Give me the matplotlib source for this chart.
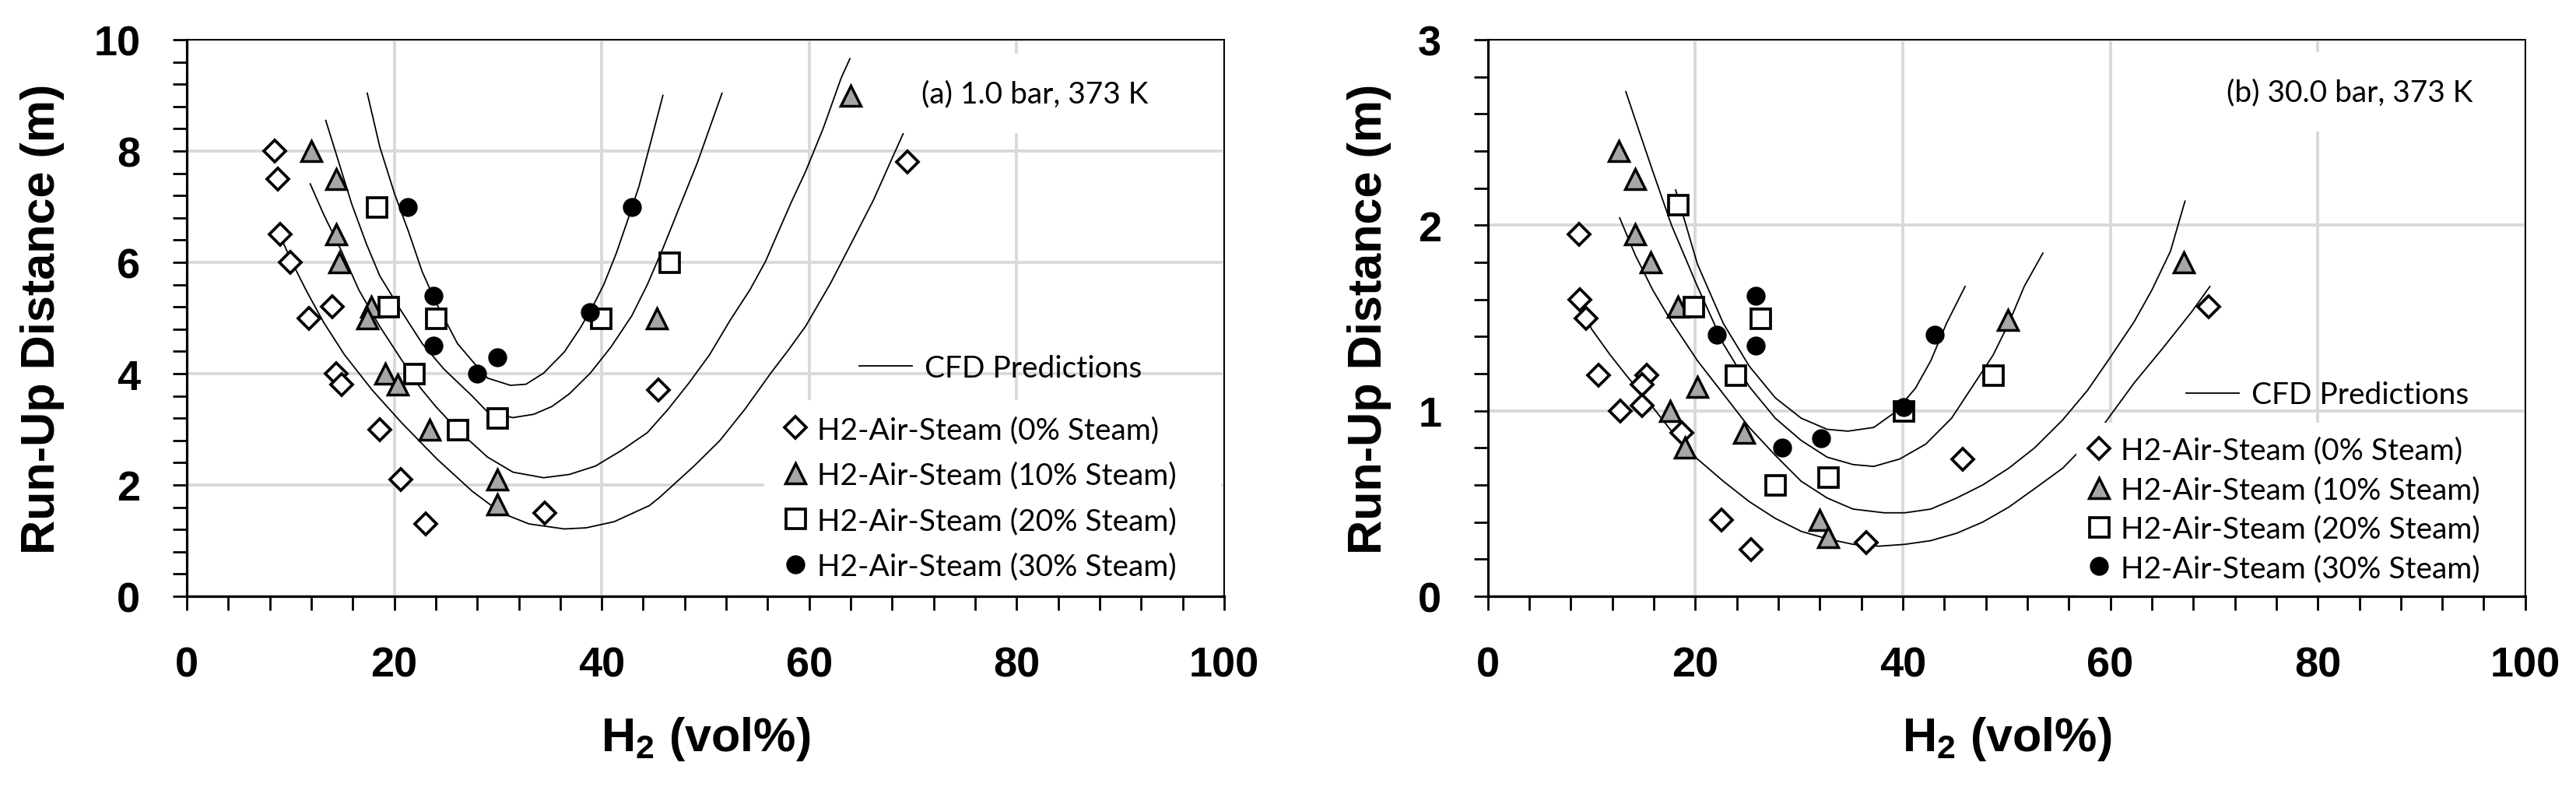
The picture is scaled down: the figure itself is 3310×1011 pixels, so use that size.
import matplotlib
matplotlib.use("Agg")
import matplotlib.pyplot as plt
from matplotlib.lines import Line2D
from matplotlib.patches import Rectangle
from matplotlib.ticker import MultipleLocator

# ---------------- (a) 1.0 bar, 373 K ----------------
a0_x = [8.5, 8.8, 9.0, 10.0, 11.8, 14.0, 14.4, 14.9, 18.6, 20.6, 23.0, 34.5, 45.5, 69.5]
a0_y = [8.0, 7.5, 6.5, 6.0, 5.0, 5.2, 4.0, 3.8, 3.0, 2.1, 1.3, 1.5, 3.7, 7.8]
a10_x = [12.0, 14.4, 14.4, 14.7, 17.8, 17.4, 19.1, 20.3, 23.4, 29.9, 29.9, 45.3, 64.0]
a10_y = [8.0, 7.5, 6.5, 6.0, 5.2, 5.0, 4.0, 3.8, 3.0, 2.1, 1.65, 5.0, 9.0]
a20_x = [18.3, 19.4, 24.0, 21.9, 26.1, 29.9, 39.9, 46.5]
a20_y = [7.0, 5.2, 5.0, 4.0, 3.0, 3.2, 5.0, 6.0]
a30_x = [21.3, 23.8, 23.8, 28.0, 29.9, 38.9, 42.9]
a30_y = [7.0, 5.4, 4.5, 4.0, 4.3, 5.1, 7.0]

# CFD predictions
ac0_x = [8.7, 10.1, 11.5, 13.2, 15.2, 17.9, 20.7, 24.1, 27.5, 30.3, 33.0, 36.4, 38.5, 41.2,
         44.6, 45.6, 48.9, 51.4, 53.8, 56.3, 57.9, 59.65, 62.05, 63.8, 66.2, 67.9, 69.2]
ac0_y = [6.6, 6.02, 5.5, 4.92, 4.34, 3.70, 3.12, 2.47, 1.89, 1.50, 1.30, 1.21, 1.23, 1.34,
         1.63, 1.78, 2.34, 2.80, 3.36, 4.01, 4.40, 4.85, 5.62, 6.25, 7.12, 7.83, 8.37]
ac10_x = [11.9, 13.2, 14.9, 16.6, 18.6, 20.7, 22.5, 24.0, 26.1, 29.0, 31.45, 34.4, 36.9, 39.4,
          41.9, 44.4, 46.4, 48.4, 50.4, 52.35, 54.3, 55.8, 57.1, 58.3, 59.65, 61.36, 63.08, 63.93]
ac10_y = [7.41, 6.86, 6.21, 5.5, 4.85, 4.25, 3.75, 3.41, 2.99, 2.50, 2.23, 2.13, 2.19, 2.34,
          2.62, 2.94, 3.36, 3.83, 4.34, 4.95, 5.51, 6.02, 6.58, 7.09, 7.63, 8.41, 9.31, 9.66]
ac20_x = [13.4, 14.5, 15.9, 17.3, 18.6, 20.7, 22.7, 24.8, 27.5, 29.0, 31.45, 33.45, 35.2, 36.9,
          38.9, 40.9, 42.9, 44.4, 45.9, 47.6, 49.2, 50.4, 51.6]
ac20_y = [8.55, 7.89, 7.05, 6.34, 5.76, 5.12, 4.54, 4.08, 3.60, 3.31, 3.21, 3.27, 3.41, 3.64,
          4.01, 4.48, 5.04, 5.60, 6.25, 7.04, 7.78, 8.41, 9.04]
ac30_x = [17.4, 18.6, 20.0, 21.4, 22.7, 24.1, 26.1, 28.2, 29.0, 31.2, 32.7, 34.4, 36.4, 37.9,
          39.2, 40.2, 41.4, 42.6, 43.6, 44.6, 45.9]
ac30_y = [9.04, 8.08, 7.25, 6.54, 5.83, 5.25, 4.54, 4.08, 3.92, 3.79, 3.81, 4.01, 4.39, 4.81,
          5.23, 5.60, 6.16, 6.81, 7.37, 8.07, 9.0]

# ---------------- (b) 30.0 bar, 373 K ----------------
b0_x = [8.8, 8.9, 9.5, 10.7, 12.8, 15.3, 14.9, 14.9, 18.7, 22.5, 25.4, 36.5, 45.8, 69.5]
b0_y = [1.95, 1.60, 1.50, 1.19, 1.00, 1.19, 1.14, 1.03, 0.88, 0.41, 0.25, 0.29, 0.74, 1.56]
b10_x = [12.6, 14.2, 14.2, 15.7, 18.3, 20.2, 17.6, 19.0, 24.7, 32.0, 32.8, 50.1, 67.1]
b10_y = [2.40, 2.25, 1.95, 1.80, 1.56, 1.13, 1.00, 0.80, 0.88, 0.41, 0.32, 1.49, 1.80]
b20_x = [18.3, 19.8, 26.3, 23.9, 27.7, 32.8, 40.1, 48.7]
b20_y = [2.11, 1.56, 1.50, 1.19, 0.60, 0.64, 1.00, 1.19]
b30_x = [25.8, 25.8, 22.1, 28.4, 32.1, 40.1, 43.1]
b30_y = [1.62, 1.35, 1.41, 0.80, 0.85, 1.02, 1.41]

bc0_x = [8.5, 10.0, 11.8, 13.5, 15.6, 17.7, 20.2, 22.7, 25.2, 27.7, 30.2, 32.7, 35.2, 37.7,
         40.2, 42.7, 45.2, 47.7, 50.2, 52.7, 55.4, 58.9, 62.3, 65.1, 67.8, 69.6]
bc0_y = [1.61, 1.44, 1.30, 1.18, 1.04, 0.89, 0.74, 0.62, 0.51, 0.42, 0.35, 0.31, 0.28, 0.27,
         0.28, 0.30, 0.34, 0.40, 0.48, 0.58, 0.69, 0.89, 1.15, 1.34, 1.53, 1.67]
bc10_x = [12.7, 14.2, 15.9, 17.7, 20.2, 22.7, 25.2, 27.7, 30.2, 32.7, 35.2, 38.2, 40.2, 42.7,
          45.2, 47.7, 50.2, 52.7, 55.4, 57.8, 59.9, 62.3, 64.0, 65.8, 67.2]
bc10_y = [2.04, 1.84, 1.65, 1.48, 1.27, 1.09, 0.91, 0.76, 0.62, 0.53, 0.47, 0.45, 0.45, 0.47,
          0.53, 0.60, 0.69, 0.80, 0.95, 1.11, 1.28, 1.48, 1.65, 1.86, 2.13]
bc20_x = [13.3, 14.5, 15.9, 17.7, 20.2, 22.7, 25.2, 27.7, 30.2, 32.7, 35.2, 37.2, 39.7, 42.2,
          44.7, 46.7, 48.7, 50.2, 51.7, 53.5]
bc20_y = [2.72, 2.52, 2.29, 2.00, 1.67, 1.36, 1.13, 0.96, 0.84, 0.75, 0.71, 0.70, 0.74, 0.82,
          0.96, 1.13, 1.30, 1.47, 1.67, 1.85]
bc30_x = [18.1, 20.2, 22.7, 25.2, 27.7, 30.2, 32.7, 34.7, 37.2, 39.2, 41.2, 42.7, 44.2, 46.0]
bc30_y = [2.19, 1.79, 1.47, 1.24, 1.07, 0.96, 0.90, 0.89, 0.91, 0.99, 1.12, 1.27, 1.47, 1.67]

labels = ["H2-Air-Steam (0% Steam)", "H2-Air-Steam (10% Steam)",
          "H2-Air-Steam (20% Steam)", "H2-Air-Steam (30% Steam)"]

styles = [
    dict(marker="D", ms=14, mfc="white", mec="black", mew=2.7),
    dict(marker="^", ms=19, mfc="#a6a6a6", mec="black", mew=2.5),
    dict(marker="s", ms=18, mfc="white", mec="black", mew=2.7),
    dict(marker="o", ms=16, mfc="black", mec="black", mew=1.5),
]

plt.rcParams["font.family"] = ["Liberation Sans", "DejaVu Sans"]
plt.rcParams["font.weight"] = "bold"
plt.rcParams["mathtext.fontset"] = "custom"
plt.rcParams["mathtext.rm"] = "Liberation Sans"
plt.rcParams["mathtext.bf"] = "Liberation Sans:bold"

SMALL = dict(family="Lato", weight="normal", size=28)


def panel(ax, pts, curves, ymax, ymaj, ymin_step, note, note_xy,
          cfd_anchor, leg_anchor, box, spacing, ylab_x):
    for cx, cy in curves:
        ax.plot(cx, cy, color="black", lw=1.3, zorder=2)
    for (px, py), st in zip(pts, styles):
        ax.plot(px, py, ls="none", zorder=3, **st)

    ax.set_xlim(0, 100)
    ax.set_ylim(0, ymax)
    ax.xaxis.set_major_locator(MultipleLocator(20))
    ax.xaxis.set_minor_locator(MultipleLocator(4))
    ax.yaxis.set_major_locator(MultipleLocator(ymaj))
    ax.yaxis.set_minor_locator(MultipleLocator(ymin_step))
    ax.set_axisbelow(True)
    ax.grid(True, which="major", color="#d9d9d9", lw=2.8)
    ax.tick_params(which="both", direction="out", length=13, width=2, color="black")
    ax.tick_params(axis="x", labelsize=39, pad=33)
    ax.tick_params(axis="y", labelsize=39, pad=30)
    for side in ["left", "bottom"]:
        ax.spines[side].set_linewidth(2.3)
    for side in ["top", "right"]:
        ax.spines[side].set_linewidth(1.4)
    for sp in ax.spines.values():
        sp.set_zorder(5)

    ax.set_ylabel("Run-Up Distance (m)", fontsize=44, fontweight="bold")
    ax.set_xlabel(r"H$_\mathbf{2}$ (vol%)", fontsize=44, fontweight="bold")
    ax.yaxis.set_label_coords(ylab_x, 0.5)
    ax.xaxis.set_label_coords(0.5, -0.212)

    ax.text(note_xy[0], note_xy[1], note, transform=ax.transAxes, fontdict=SMALL,
            ha="left", va="baseline", zorder=4,
            bbox=dict(boxstyle="square,pad=0.85", facecolor="white", edgecolor="none"))

    # white area behind the marker legend
    ax.add_patch(Rectangle((box[0], 0.002), 0.997 - box[0], box[1], transform=ax.transAxes,
                           facecolor="white", edgecolor="none", zorder=2.2))

    cfd = ax.legend([Line2D([], [], color="black", lw=1.3)], ["CFD Predictions"],
                    loc="center left", bbox_to_anchor=cfd_anchor, frameon=False,
                    prop=SMALL, handlelength=1.75, handletextpad=0.41,
                    borderpad=0, borderaxespad=0)
    ax.add_artist(cfd)

    handles = [Line2D([], [], ls="none", **st) for st in styles]
    ax.legend(handles, labels, loc="upper left", bbox_to_anchor=leg_anchor,
              frameon=False, prop=SMALL, handlelength=0.8, handletextpad=0.33,
              labelspacing=spacing, borderpad=0, borderaxespad=0)


fig = plt.figure(figsize=(33.1, 10.12), dpi=100)
ax1 = fig.add_axes([0.0725, 0.2421, 0.4027, 0.7065])
ax2 = fig.add_axes([0.5776, 0.2421, 0.4027, 0.7065])

panel(ax1,
      [(a0_x, a0_y), (a10_x, a10_y), (a20_x, a20_y), (a30_x, a30_y)],
      [(ac0_x, ac0_y), (ac10_x, ac10_y), (ac20_x, ac20_y), (ac30_x, ac30_y)],
      10, 2, 0.4, "(a) 1.0 bar, 373 K", (0.708, 0.888),
      (0.6485, 0.41), (0.575, 0.3245), (0.557, 0.35), 0.58, -0.118)

panel(ax2,
      [(b0_x, b0_y), (b10_x, b10_y), (b20_x, b20_y), (b30_x, b30_y)],
      [(bc0_x, bc0_y), (bc10_x, bc10_y), (bc20_x, bc20_y), (bc30_x, bc30_y)],
      3, 1, 0.2, "(b) 30.0 bar, 373 K", (0.712, 0.891),
      (0.673, 0.362), (0.577, 0.287), (0.567, 0.31), 0.37, -0.093)

fig.savefig("out.png", dpi=100)
